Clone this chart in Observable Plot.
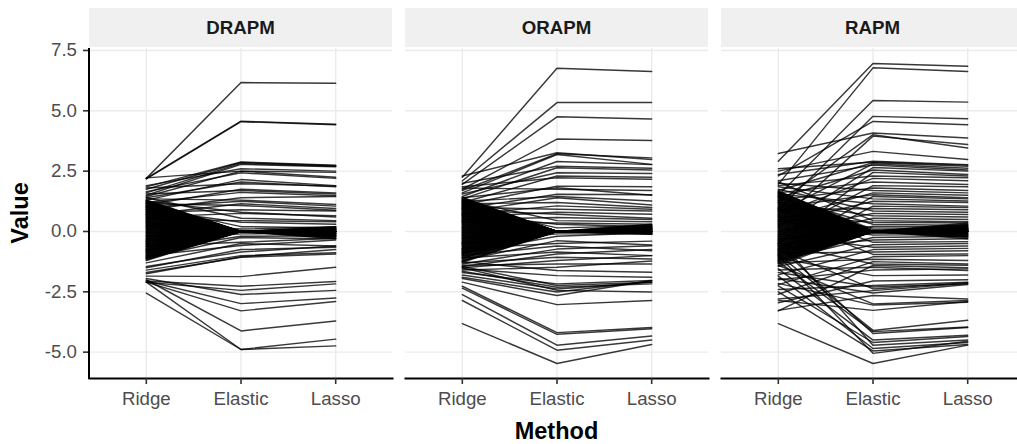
<!DOCTYPE html>
<html><head><meta charset="utf-8">
<script src="https://cdn.jsdelivr.net/npm/d3@7"></script>
<script src="https://cdn.jsdelivr.net/npm/@observablehq/plot@0.6"></script>
<style>
html,body{margin:0;padding:0;background:#fff;overflow:hidden;}
#chart{width:1017px;height:444px;overflow:hidden;position:relative;}
#chart svg{max-width:none !important;}
</style></head><body><div id="chart"></div>
<script>
const panels = ["DRAPM", "ORAPM", "RAPM"];
const methods = ["Ridge", "Elastic", "Lasso"];
const yTicks = [-5, -2.5, 0, 2.5, 5, 7.5];
const xTitle = "Method";
const yTitle = "Value";

// DRAPM: players with non-zero Elastic / Lasso estimates
const drapmRidge = [2.20,2.20,2.18,2.22,1.85,1.75,1.60,1.50,1.90,1.45,1.65,1.30,1.40,1.80,1.10,1.55,1.20,0.90,1.35,1.00,0.70,1.15,0.80,1.25,0.60,1.40,0.50,0.90,1.05,0.30,-0.40,-0.80,-1.10,-0.60,-1.30,-1.00,-1.50,-1.45,-1.60,-1.70,-1.75,-1.85,-2.05,-2.10,-1.95,-2.05,-2.10,-2.00,-2.10,-2.55];
const drapmElastic = [6.17,4.57,4.55,2.50,2.88,2.86,2.82,2.78,2.60,2.50,2.43,2.15,2.05,1.98,1.75,1.70,1.62,1.40,1.30,1.25,1.15,1.08,0.90,0.80,0.75,0.55,0.45,0.38,0.20,0.10,-0.10,-0.20,-0.25,-0.45,-0.50,-0.58,-0.75,-0.85,-1.00,-1.07,-1.05,-1.87,-2.27,-2.44,-2.61,-2.99,-3.29,-4.12,-4.89,-4.89];
const drapmLasso = [6.14,4.44,4.42,2.45,2.75,2.72,2.70,2.68,2.50,2.25,2.20,1.90,1.85,1.88,1.60,1.55,1.48,1.45,1.12,1.05,0.95,0.88,0.85,0.60,0.65,0.45,0.40,0.30,0.15,0.20,-0.05,-0.18,-0.30,-0.28,-0.60,-0.35,-0.65,-0.60,-0.88,-0.93,-0.75,-1.48,-2.07,-2.17,-2.44,-2.76,-2.90,-3.71,-4.46,-4.74];
// DRAPM: Ridge values of players shrunk to 0 by both Elastic and Lasso
const drapmShrunkRidge = [1.31,1.27,1.24,1.19,1.16,1.12,1.09,1.04,1.01,0.97,0.93,0.90,0.85,0.82,0.78,0.74,0.71,0.66,0.63,0.59,0.56,0.52,0.47,0.44,0.40,0.37,0.33,0.28,0.25,0.21,0.18,0.13,0.10,0.06,0.02,-0.02,-0.05,-0.09,-0.14,-0.17,-0.21,-0.24,-0.29,-0.32,-0.36,-0.40,-0.43,-0.48,-0.51,-0.55,-0.59,-0.62,-0.67,-0.70,-0.74,-0.78,-0.81,-0.86,-0.89,-0.93,-0.97,-1.01,-1.05,-1.09,-1.14,-1.20];
// DRAPM: players shrunk to 0 by Elastic only (Ridge, Lasso)
const drapmElasticZeroRidge = [1.29,1.25,1.21,1.17,1.14,1.10,1.06,1.02,0.99,0.95,0.91,0.88,0.84,0.80,0.76,0.72,0.69,0.65,0.61,0.57,0.54,0.50,0.45,0.42,0.38,0.35,0.31,0.26,0.23,0.19,0.16,0.12,0.08,0.04,0.00,-0.04,-0.07,-0.11,-0.16,-0.19,-0.23,-0.27,-0.31,-0.34,-0.38,-0.42,-0.45,-0.50,-0.53,-0.57,-0.61,-0.64,-0.69,-0.72,-0.76,-0.80,-0.83,-0.88,-0.91,-0.95,-0.99,-1.03,-1.07,-1.12,-1.17];
const drapmElasticZeroLasso = [0.12,0,0.08,0,0.15,0,0,0.05,0,0.18,0,0.1,0,0,0.06,0,0.14,0,0.03,0,0.09,0,0,0.2,0,0.04,0,-0.05,0,0.07,0,-0.1,0,0,-0.15,0,-0.08,0,-0.2,0,-0.04,0,-0.25,0,-0.12,0,0,-0.18,0,-0.06,0,-0.28,0,-0.1,0,-0.22,0,-0.14,0,-0.3,0,-0.08,0,-0.2,0];

// ORAPM
const orapmRidge = [2.25,2.09,1.95,1.75,2.30,1.70,1.60,1.45,2.00,1.35,1.55,1.20,1.85,1.10,1.40,0.95,1.25,0.80,1.15,0.70,1.00,0.60,0.90,0.50,1.30,0.40,0.75,1.05,-0.50,-0.90,-1.20,-0.70,-1.35,-1.10,-1.45,-1.30,-1.50,-1.40,-1.60,-1.25,-1.55,-1.70,-1.45,-1.65,-1.80,-1.50,-1.90,-1.95,-2.10,-2.27,-2.35,-2.62,-2.86,-3.82,1.80,-1.00];
const orapmElastic = [6.76,5.34,4.75,3.83,3.26,3.22,3.19,2.90,2.70,2.64,2.43,2.30,2.23,1.88,1.81,1.54,1.45,1.40,1.20,1.06,0.92,0.80,0.71,0.58,0.45,0.35,0.30,0.15,-0.10,-0.20,-0.38,-0.50,-0.73,-0.85,-0.93,-1.07,-1.20,-1.35,-1.48,-1.62,-1.83,-2.17,-2.24,-2.31,-2.38,-2.44,-2.51,-2.65,-3.03,-4.19,-4.26,-4.71,-4.92,-5.47,1.75,-0.60];
const orapmLasso = [6.63,5.34,4.66,3.77,2.98,3.05,2.78,2.77,2.62,2.55,2.40,2.25,2.16,1.85,1.50,1.52,1.26,1.10,0.99,0.92,0.85,0.71,0.55,0.50,0.40,0.30,0.20,0.25,-0.10,-0.05,-0.56,-0.40,-0.59,-1.00,-0.75,-1.14,-1.00,-1.35,-1.22,-1.69,-1.90,-2.03,-2.10,-2.17,-2.10,-2.51,-2.05,-2.03,-2.86,-3.98,-4.03,-4.33,-4.50,-4.68,1.70,-0.80];
const orapmShrunkRidge = [1.42,1.38,1.34,1.31,1.26,1.23,1.19,1.15,1.11,1.08,1.03,0.99,0.96,0.92,0.87,0.84,0.80,0.76,0.73,0.68,0.65,0.61,0.57,0.53,0.50,0.45,0.42,0.38,0.34,0.30,0.27,0.22,0.19,0.15,0.11,0.07,0.04,-0.01,-0.04,-0.08,-0.12,-0.16,-0.19,-0.24,-0.27,-0.31,-0.35,-0.39,-0.42,-0.47,-0.50,-0.54,-0.58,-0.62,-0.65,-0.70,-0.73,-0.77,-0.81,-0.85,-0.88,-0.93,-0.96,-1.00,-1.04,-1.08,-1.12,-1.17,-1.22,-1.28];
const orapmElasticZeroRidge = [1.40,1.36,1.32,1.28,1.24,1.21,1.17,1.13,1.09,1.05,1.01,0.97,0.94,0.90,0.85,0.82,0.78,0.74,0.70,0.66,0.63,0.59,0.55,0.51,0.47,0.43,0.40,0.36,0.32,0.28,0.24,0.20,0.17,0.13,0.09,0.05,0.01,-0.03,-0.06,-0.10,-0.14,-0.18,-0.22,-0.26,-0.29,-0.33,-0.37,-0.41,-0.45,-0.49,-0.52,-0.56,-0.60,-0.64,-0.68,-0.72,-0.75,-0.79,-0.83,-0.87,-0.91,-0.95,-1.02,-1.10,-1.25];
const orapmElasticZeroLasso = [0.1,0,0.2,0,0.06,0,0.25,0,0.12,0,0,0.3,0,0.08,0,0.16,0,0.04,0,0.22,0,0.1,0,0.28,0,0.05,0,0.14,0,0.18,0,-0.05,0,0.09,0,-0.08,0,0.12,0,-0.1,0,0.06,0,-0.04,0,0.2,0,-0.12,0,0.03,0,-0.06,0,0.15,0,-0.1,0,0.07,0,-0.03,0,0.11,0,-0.08,0];

// RAPM
const rapmRidge = [2.91,1.95,1.50,0.90,2.30,3.23,1.20,0.40,2.50,2.36,1.70,0.80,2.10,0.20,1.40,-0.50,1.90,0.70,1.60,-0.20,1.30,2.00,0.50,1.00,-0.80,1.85,0.30,1.55,-1.00,0.90,1.75,0.00,1.20,-0.40,2.05,0.65,1.45,-0.60,0.85,1.65,-0.30,0.45,-1.20,-0.70,0.95,-1.45,-0.10,-1.80,-0.90,0.60,-2.20,-1.30,-2.60,-0.50,-3.29,-1.60,-2.00,-1.10,-2.40,-1.70,-0.75,-2.80,-1.95,-3.27,-1.40,-2.15,-2.86,-0.95,-1.25,-0.60,-1.55,-2.25,-0.35,-1.85,-2.50,-3.82,-1.00,2.60,-2.95];
const rapmElastic = [6.96,6.78,5.43,4.77,4.56,4.08,4.01,3.95,3.32,2.91,2.85,2.80,2.75,2.65,2.55,2.45,2.30,2.20,2.05,1.90,1.80,1.70,1.60,1.52,1.45,1.35,1.25,1.15,1.05,0.95,0.85,0.75,0.65,0.55,0.45,0.38,0.30,0.22,0.15,0.08,-0.08,-0.15,-0.25,-0.35,-0.45,-0.55,-0.65,-0.75,-0.85,-0.95,-1.05,-1.15,-1.25,-1.35,-1.41,-1.48,-1.60,-1.83,-2.24,-2.30,-2.38,-2.45,-2.55,-2.65,-3.00,-3.05,-3.27,-4.10,-4.15,-4.23,-4.50,-4.60,-4.71,-4.85,-4.95,-5.47,-5.05,2.88,-2.05];
const rapmLasso = [6.85,6.63,5.36,4.67,4.42,3.87,3.46,3.60,2.98,2.77,2.70,2.62,2.55,2.50,2.36,2.30,2.23,2.10,1.95,1.85,1.70,1.60,1.50,1.40,1.35,1.26,1.20,1.05,0.99,0.90,0.80,0.70,0.60,0.50,0.40,0.35,0.25,0.18,0.10,0.05,-0.05,-0.12,-0.20,-0.30,-0.42,-0.50,-0.60,-0.70,-0.80,-0.93,-1.00,-1.20,-1.35,-1.40,-1.50,-1.62,-1.55,-1.80,-2.10,-2.17,-2.12,-2.15,-2.20,-2.80,-2.86,-2.93,-2.90,-3.68,-3.96,-3.98,-4.30,-4.35,-4.50,-4.60,-4.68,-4.71,-4.55,2.75,-2.00];
const rapmShrunkRidge = [1.68,1.62,1.57,1.51,1.47,1.42,1.37,1.33,1.28,1.24,1.19,1.14,1.10,1.05,1.01,0.96,0.92,0.87,0.83,0.78,0.74,0.69,0.64,0.60,0.56,0.51,0.47,0.42,0.38,0.33,0.29,0.24,0.20,0.15,0.11,0.06,0.02,-0.03,-0.07,-0.12,-0.16,-0.21,-0.25,-0.30,-0.34,-0.39,-0.43,-0.48,-0.52,-0.57,-0.61,-0.66,-0.70,-0.75,-0.79,-0.84,-0.88,-0.93,-0.97,-1.02,-1.06,-1.11,-1.16,-1.21,-1.27,-1.33,-1.40];
const rapmElasticZeroRidge = [1.65,1.60,1.54,1.49,1.44,1.40,1.35,1.30,1.26,1.21,1.16,1.12,1.07,1.03,0.98,0.94,0.89,0.85,0.80,0.76,0.71,0.67,0.62,0.58,0.53,0.49,0.44,0.40,0.35,0.31,0.26,0.22,0.17,0.13,0.08,0.04,-0.01,-0.05,-0.10,-0.14,-0.19,-0.23,-0.28,-0.32,-0.37,-0.41,-0.46,-0.50,-0.55,-0.59,-0.64,-0.68,-0.73,-0.77,-0.82,-0.86,-0.91,-0.95,-1.00,-1.04,-1.09,-1.14,-1.19,-1.25,-1.31];
const rapmElasticZeroLasso = [0.15,0,0.3,0,0.08,0,0.22,0,0.12,0,0.35,0,0.05,0,0.18,0,0.26,0,0.1,0,0,0.2,0,0.04,0,0.14,0,0.28,0,0.07,0,-0.06,0,0.16,0,-0.1,0,0.09,0,-0.15,0,0.03,0,-0.2,0,0.11,0,-0.08,0,-0.25,0,0.06,0,-0.12,0,-0.3,0,0.02,0,-0.18,0,-0.05,0,-0.22,0];

function buildRows(panel, ridge, elastic, lasso, shrunk, ezRidge, ezLasso) {
  const rows = [];
  const add = (id, r, e, l) => rows.push(
    {panel, id, method: "Ridge", value: r},
    {panel, id, method: "Elastic", value: e},
    {panel, id, method: "Lasso", value: l});
  shrunk.forEach((r, i) => add(panel + "-s" + i, r, 0, 0));
  ezRidge.forEach((r, i) => add(panel + "-z" + i, r, 0, ezLasso[i]));
  ridge.forEach((r, i) => add(panel + "-" + i, r, elastic[i], lasso[i]));
  return rows;
}
const rows = [
  ...buildRows("DRAPM", drapmRidge, drapmElastic, drapmLasso, drapmShrunkRidge, drapmElasticZeroRidge, drapmElasticZeroLasso),
  ...buildRows("ORAPM", orapmRidge, orapmElastic, orapmLasso, orapmShrunkRidge, orapmElasticZeroRidge, orapmElasticZeroLasso),
  ...buildRows("RAPM", rapmRidge, rapmElastic, rapmLasso, rapmShrunkRidge, rapmElasticZeroRidge, rapmElasticZeroLasso)
];
const allValues = rows.map(d => d.value);
const [vmin, vmax] = d3.extent(allValues);
const vpad = (vmax - vmin) * 0.05;

const fontFam = "'Liberation Sans', Arial, Helvetica, sans-serif";
const chartSvg = Plot.plot({
  width: 1030, height: 444,
  marginLeft: 89, marginRight: 6, marginTop: 48, marginBottom: 66,
  style: {fontFamily: fontFam, fontSize: "18.7px", background: "#fff", maxWidth: "none"},
  fx: {domain: panels, paddingInner: 0.0411, paddingOuter: 0, axis: null, label: null, round: false},
  x: {type: "point", domain: methods, padding: 0.6, label: null, round: false},
  y: {domain: [vmin - vpad, vmax + vpad], label: null},
  marks: [
    Plot.gridY(yTicks, {stroke: "#ebebeb", strokeOpacity: 1, strokeWidth: 1.4}),
    Plot.gridX(methods, {stroke: "#ebebeb", strokeOpacity: 1, strokeWidth: 1.4}),
    Plot.line(rows, {fx: "panel", x: "method", y: "value", z: "id", stroke: "#000", strokeOpacity: 0.78, strokeWidth: 1.45}),
    Plot.frame({anchor: "bottom", stroke: "#000", strokeWidth: 2}),
    Plot.axisY(yTicks, {tickFormat: d => d.toFixed(1), tickSize: 6, tickPadding: 6.5, stroke: "#333", strokeWidth: 1.6, fill: "#4d4d4d", label: null}),
    Plot.axisX(methods, {tickSize: 6, tickPadding: 7, stroke: "#333", strokeWidth: 1.6, fill: "#4d4d4d", label: null})
  ]
});
chartSvg.style.maxWidth = "none";
document.getElementById("chart").appendChild(chartSvg);

const sel = d3.select(chartSvg);
const fxScale = chartSvg.scale("fx");
const yRange = chartSvg.scale("y").range;
const yTop = Math.min(...yRange), yBottom = Math.max(...yRange);
panels.forEach(p => {
  const x0 = fxScale.apply(p);
  sel.append("rect").attr("x", x0).attr("y", 8).attr("width", fxScale.bandwidth).attr("height", 39).attr("fill", "#f0f0f0");
  sel.append("text").attr("x", x0 + fxScale.bandwidth / 2).attr("y", 27.5).attr("dy", "0.35em")
    .attr("text-anchor", "middle").attr("font-family", fontFam).attr("font-size", 18.7)
    .attr("font-weight", "bold").attr("fill", "#1a1a1a").text(p);
});
const xLeft = fxScale.apply(panels[0]);
sel.append("line").attr("x1", xLeft).attr("x2", xLeft).attr("y1", yTop).attr("y2", yBottom + 1)
  .attr("stroke", "#000").attr("stroke-width", 2);
const xRight = fxScale.apply(panels[2]) + fxScale.bandwidth;
sel.append("text").attr("x", (xLeft + xRight) / 2).attr("y", 439)
  .attr("text-anchor", "middle").attr("font-family", fontFam).attr("font-size", 23.5)
  .attr("font-weight", "bold").attr("fill", "#000").text(xTitle);
sel.append("text").attr("transform", `translate(28,${(yTop + yBottom) / 2}) rotate(-90)`)
  .attr("text-anchor", "middle").attr("font-family", fontFam).attr("font-size", 23.5)
  .attr("font-weight", "bold").attr("fill", "#000").text(yTitle);
</script></body></html>
